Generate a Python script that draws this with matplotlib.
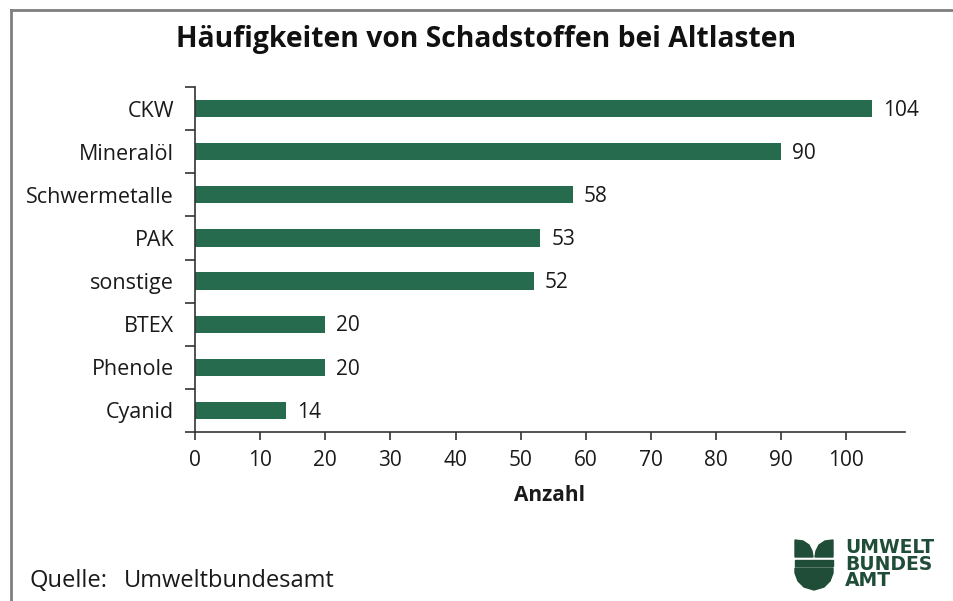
import numpy as np
import matplotlib
matplotlib.use("Agg")
import matplotlib.pyplot as plt
from matplotlib.patches import Rectangle, Polygon

plt.rcParams['font.family'] = ['Open Sans', 'DejaVu Sans']

# Daten
kategorien = ['CKW', 'Mineralöl', 'Schwermetalle', 'PAK', 'sonstige', 'BTEX', 'Phenole', 'Cyanid']
anzahl = [104, 90, 58, 53, 52, 20, 20, 14]
x_ticks = [0, 10, 20, 30, 40, 50, 60, 70, 80, 90, 100]

W, H = 954, 601
fig = plt.figure(figsize=(W / 100, H / 100), dpi=100)

# Achse in Pixelkoordinaten
left, right, top, bottom = 195, 905, 87, 432
ax = fig.add_axes([left / W, 1 - bottom / H, (right - left) / W, (bottom - top) / H])

gruen = '#276b4f'
txtfarbe = '#1a1a1a'
y = np.arange(len(kategorien))
ax.barh(y, anzahl, height=0.40, color=gruen)
ax.set_ylim(len(kategorien) - 0.5, -0.5)
ax.set_xlim(0, 109)

for yi, v in zip(y, anzahl):
    ax.text(v + 1.7, yi + 0.04, str(v), va='center', ha='left', fontsize=15, color=txtfarbe)

ax.set_yticks(y)
ax.set_yticklabels(kategorien, fontsize=15.5, color=txtfarbe)
ax.set_yticks(np.arange(-0.5, len(kategorien)), minor=True)
ax.tick_params(axis='y', which='major', length=0, pad=15)
ax.tick_params(axis='y', which='minor', length=7, width=1.2, color='#333333')
ax.set_xticks(x_ticks)
ax.set_xticklabels([str(t) for t in x_ticks], fontsize=15, color=txtfarbe)
ax.tick_params(axis='x', length=6, width=1.2, color='#333333', pad=7)

for s in ['top', 'right']:
    ax.spines[s].set_visible(False)
for s in ['left', 'bottom']:
    ax.spines[s].set_linewidth(1.2)
    ax.spines[s].set_color('#333333')

ax.set_xlabel('Anzahl', fontsize=15, fontweight='bold', labelpad=10, color=txtfarbe)

fig.text(486 / W, 1 - 40 / H, 'Häufigkeiten von Schadstoffen bei Altlasten',
         ha='center', va='center', fontsize=20.3, fontweight='bold', color='#111111')
fig.text(30 / W, 1 - 581 / H, 'Quelle:', ha='left', va='center',
         fontsize=17, color=txtfarbe)
fig.text(124 / W, 1 - 581 / H, 'Umweltbundesamt', ha='left', va='center',
         fontsize=17, color=txtfarbe)

# Rahmen
fig.add_artist(plt.Line2D([11.5 / W, 11.5 / W], [0, 1 - 9.5 / H], transform=fig.transFigure,
                          color='#7f7f7f', linewidth=2))
fig.add_artist(plt.Line2D([11.5 / W, 1], [1 - 9.5 / H, 1 - 9.5 / H], transform=fig.transFigure,
                          color='#7f7f7f', linewidth=2))

# Logo
logo = '#1f4d37'
lax = fig.add_axes([0, 0, 1, 1], facecolor='none')
lax.set_xlim(0, W)
lax.set_ylim(H, 0)
lax.axis('off')
# obere Blätter
lax.add_patch(Polygon([[795, 540], [803, 541], [809, 545], [812, 551], [813, 557], [795, 557]],
                      closed=True, color=logo))
lax.add_patch(Polygon([[833, 540], [825, 541], [819, 545], [816, 551], [815, 557], [833, 557]],
                      closed=True, color=logo))
# Band
lax.add_patch(Rectangle((795, 559.5), 38, 6.5, color=logo))
# untere Schale
lax.add_patch(Polygon([[795, 568], [833, 568], [833, 573], [830, 581], [824, 587], [814, 590],
                       [804, 587], [798, 581], [795, 573]], closed=True, color=logo))
lax.text(845, 564, 'UMWELT\nBUNDES\nAMT', ha='left', va='center', fontsize=13.5,
         fontweight='bold', color=logo, linespacing=0.85,
         family=['Liberation Sans Narrow', 'DejaVu Sans'])

fig.savefig('out.png', dpi=100, facecolor='white')
